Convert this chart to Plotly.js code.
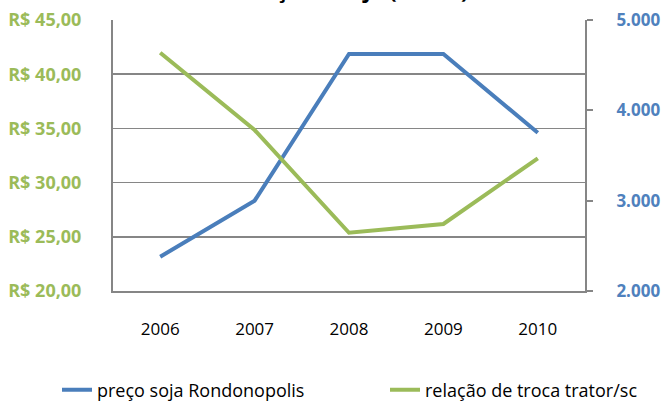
<!DOCTYPE html>
<html>
<head>
<meta charset="utf-8">
<script src="https://cdn.plot.ly/plotly-3.0.1.min.js"></script>
<style>html,body{margin:0;padding:0;background:#fff;}#chart{width:662px;height:403px;}</style>
</head>
<body>
<div id="chart"></div>
<script>
var years = ['2006', '2007', '2008', '2009', '2010'];
var precoSoja = [23.16, 28.33, 41.86, 41.86, 34.6];
var relacaoTroca = [4638, 3782, 2645, 2742, 3469];
var leftTickVals = [20, 25, 30, 35, 40, 45];
var leftTickText = ['R$ 20,00', 'R$ 25,00', 'R$ 30,00', 'R$ 35,00', 'R$ 40,00', 'R$ 45,00'];
var rightTickVals = [2000, 3000, 4000, 5000];
var rightTickText = ['2.000', '3.000', '4.000', '5.000'];
var chartTitle = 'Preço de soja (R$/ sc)';

var FONT = 'Open Sans, sans-serif';
var GRID = '#868686';

var traces = [
  {x: years, y: precoSoja, type: 'scatter', mode: 'lines', name: 'preço soja Rondonopolis',
   line: {color: '#4A7EBB', width: 4}, yaxis: 'y', legend: 'legend'},
  {x: years, y: relacaoTroca, type: 'scatter', mode: 'lines', name: 'relação de troca trator/sc',
   line: {color: '#9BBB59', width: 4}, yaxis: 'y2', legend: 'legend2'}
];

var legendCommon = {
  orientation: 'h', xref: 'container', xanchor: 'left',
  y: 1 - 390/403, yref: 'container', yanchor: 'middle',
  font: {family: FONT, size: 18, color: '#000'}, bgcolor: 'rgba(0,0,0,0)'
};

var layout = {
  width: 662, height: 403,
  margin: {l: 113, r: 77, t: 20, b: 112},
  paper_bgcolor: '#fff', plot_bgcolor: '#fff',
  font: {family: FONT, color: '#000'},
  annotations: [{text: '<b>' + chartTitle + '</b>', xref: 'paper', yref: 'paper', x: 0.51, y: 1 + 14/271,
                 xanchor: 'center', yanchor: 'bottom', showarrow: false,
                 font: {family: FONT, size: 22, color: '#000'}}],
  showlegend: true,
  legend: Object.assign({}, legendCommon, {x: 57/662}),
  legend2: Object.assign({}, legendCommon, {x: 385/662}),
  xaxis: {type: 'category', range: [-0.5, 4.5], showgrid: false, zeroline: false,
          showline: true, linecolor: GRID, linewidth: 2, ticks: '', ticklabelstandoff: 22,
          tickfont: {family: FONT, size: 17, color: '#000'}, fixedrange: true},
  yaxis: {range: [20, 45], tickvals: leftTickVals, ticktext: leftTickText,
          showgrid: true, gridcolor: GRID, gridwidth: 1.5, zeroline: false,
          showline: true, linecolor: GRID, linewidth: 2, ticks: '', ticklabelstandoff: 26,
          tickfont: {family: FONT, size: 18, color: '#9BBB59', weight: 'bold'}},
  yaxis2: {range: [2000, 5000], tickvals: rightTickVals, ticktext: rightTickText,
           overlaying: 'y', side: 'right', showgrid: false, zeroline: false,
           showline: true, linecolor: GRID, linewidth: 2, ticks: 'outside', ticklen: 6,
           tickcolor: GRID, tickwidth: 2, ticklabelstandoff: 20,
           tickfont: {family: FONT, size: 17, color: '#4F81BD', weight: 'bold'}}
};

Plotly.newPlot('chart', traces, layout, {displayModeBar: false, staticPlot: true});
</script>
</body>
</html>
